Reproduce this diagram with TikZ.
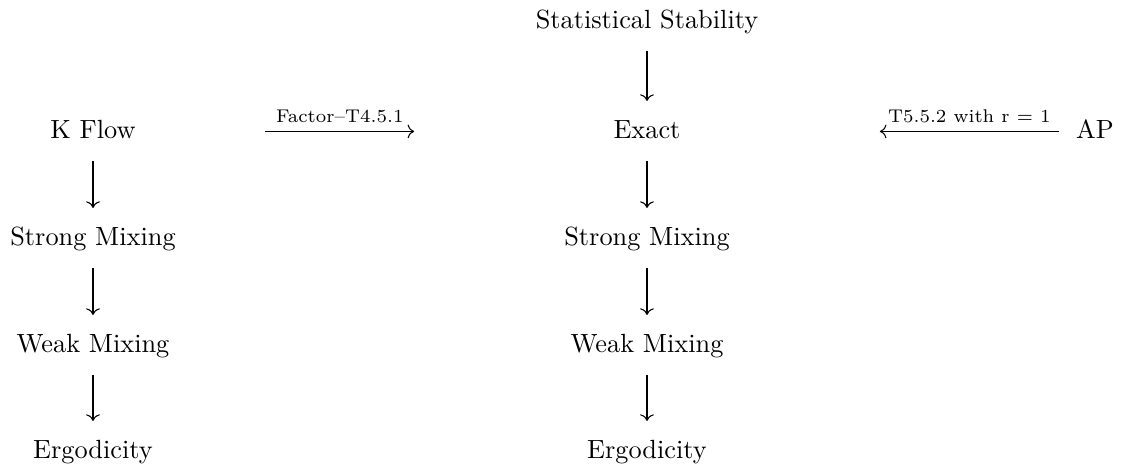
\documentclass[tikz,border=0pt]{standalone}
\usetikzlibrary{arrows.meta,calc}
\begin{document}
\begin{tikzpicture}[x=0.38pt,y=-0.38pt,
  term/.style={anchor=base,inner sep=0pt,text height=7pt,text depth=2pt,font=\normalsize},
  arr/.style={-{Computer Modern Rightarrow},line width=0.4pt},
  varr/.style={arr,shorten <=6.6pt,shorten >=6.9pt},
  lab/.style={above,inner sep=3pt,font=\scriptsize}]
\useasboundingbox (0,0) rectangle (1124,468);
% left column
\node[term] (kf)  at (93,138) {K Flow};
\node[term] (lsm) at (93,245) {Strong Mixing};
\node[term] (lwm) at (93,352) {Weak Mixing};
\node[term] (ler) at (93,458) {Ergodicity};
% center column
\node[term] (ss)  at (647,28)  {Statistical Stability};
\node[term] (ex)  at (647,138) {Exact};
\node[term] (csm) at (647,245) {Strong Mixing};
\node[term] (cwm) at (647,352) {Weak Mixing};
\node[term] (cer) at (647,458) {Ergodicity};
% right
\node[term] (ap) at (1095,138) {AP};
% vertical arrows
\draw[varr] (kf) -- (lsm);
\draw[varr] (lsm) -- (lwm);
\draw[varr] (lwm) -- (ler);
\draw[varr] (ss) -- (ex);
\draw[varr] (ex) -- (csm);
\draw[varr] (csm) -- (cwm);
\draw[varr] (cwm) -- (cer);
% horizontal arrows
\path (kf.east) -- (ex.west) coordinate[pos=0.271] (f1) coordinate[pos=0.583] (f2);
\draw[arr] (f1) -- node[lab] {Factor--T4.5.1} (f2);
\path (ap.west) -- (ex.east) coordinate[pos=0.043] (a1) coordinate[pos=0.496] (a2);
\draw[arr] (a1) -- node[lab] {T5.5.2 with r $=$ 1} (a2);
\end{tikzpicture}
\end{document}
